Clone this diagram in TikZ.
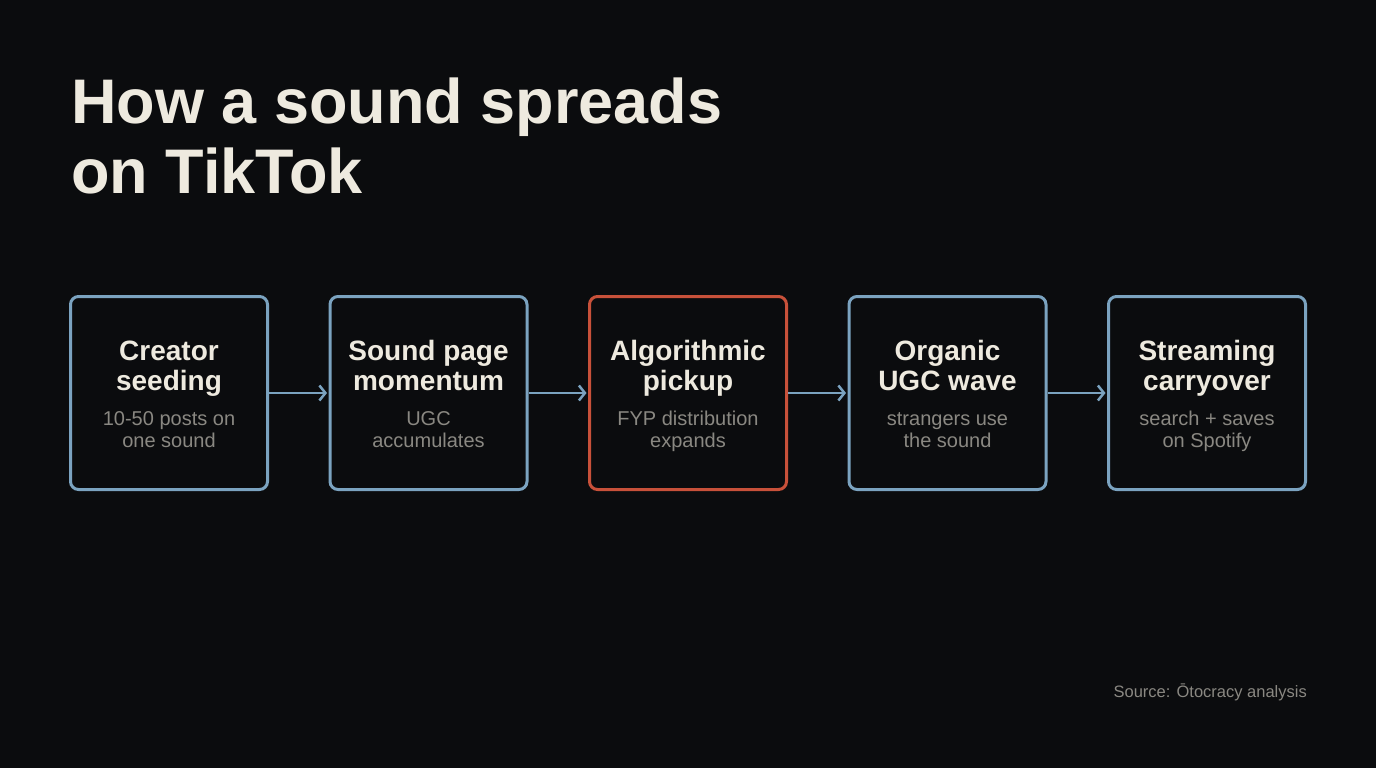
\documentclass[tikz,border=0pt]{standalone}
\usepackage{fontspec}
\setmainfont{Liberation Sans}
\usetikzlibrary{arrows.meta}
\definecolor{bg}{HTML}{0B0C0E}
\definecolor{cream}{HTML}{EEEADF}
\definecolor{subgray}{HTML}{8A8882}
\definecolor{stepblue}{HTML}{7BA3C0}
\definecolor{stepred}{HTML}{C8513A}
\tikzset{
  stepbox/.style={draw=stepblue, line width=3pt, rounded corners=8pt, minimum width=197pt, minimum height=193pt, fill=bg, inner sep=0pt},
  hotbox/.style={stepbox, draw=stepred},
  steptitle/.style={text=cream, font=\fontsize{28}{30}\selectfont\bfseries, align=center, inner sep=0pt},
  stepsub/.style={text=subgray, font=\fontsize{20}{22.5}\selectfont, align=center, inner sep=0pt},
  flow/.style={draw=stepblue, line width=2.5pt, shorten >=1.5pt, -{Straight Barb[length=6pt,width=15pt,line width=2.5pt]}},
}
\begin{document}
\begin{tikzpicture}[x=1pt,y=-1pt]
\fill[bg] (0,0) rectangle (1376,768);
\useasboundingbox (0,0) rectangle (1376,768);
\node[anchor=base west, text=cream, font=\fontsize{63}{70}\selectfont\bfseries, inner sep=0pt] (t1) at (71,123) {How a sound spreads};
\node[anchor=base west, text=cream, font=\fontsize{63}{70}\selectfont\bfseries, inner sep=0pt] (t2) at (71,193) {on TikTok};

\node[stepbox] (b1) at (169,393) {};
\node[stepbox] (b2) at (428.5,393) {};
\node[hotbox] (b3) at (688,393) {};
\node[stepbox] (b4) at (947.5,393) {};
\node[stepbox] (b5) at (1207,393) {};

\foreach \b/\x/\la/\lb/\sa/\sb in {b1/169/Creator/seeding/10-50 posts on/one sound,
  b2/428.5/Sound page/momentum/UGC/accumulates,
  b3/688/Algorithmic/pickup/FYP distribution/expands,
  b4/947.5/Organic/UGC wave/strangers use/the sound,
  b5/1207/Streaming/carryover/search + saves/on Spotify}{
  \node[steptitle, anchor=base] (\b ta) at (\x,360) {\la};
  \node[steptitle, anchor=base] (\b tb) at (\x,390) {\lb};
  \node[stepsub, anchor=base] (\b sa) at (\x,425) {\sa};
  \node[stepsub, anchor=base] (\b sb) at (\x,447) {\sb};
}

\draw[flow] (b1.east) -- (b2.west);
\draw[flow] (b2.east) -- (b3.west);
\draw[flow] (b3.east) -- (b4.west);
\draw[flow] (b4.east) -- (b5.west);

\node[anchor=base east, text=subgray, font=\fontsize{16.5}{18}\selectfont, inner sep=0pt] (src) at (1307,697) {Source: Ōtocracy analysis};
\end{tikzpicture}
\end{document}
